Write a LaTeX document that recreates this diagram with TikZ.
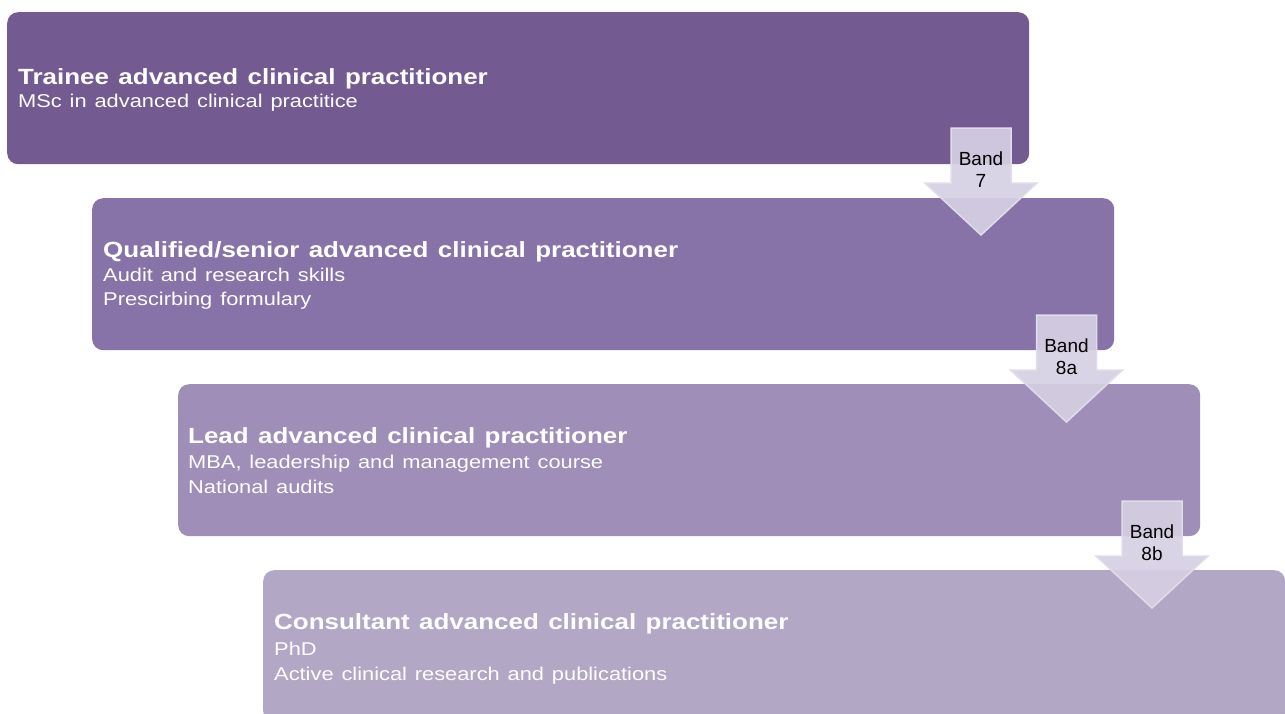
\documentclass[tikz,border=0pt]{standalone}
\usepackage{fontspec}
\setmainfont{Liberation Sans}
\newfontfamily\ttlfont{Liberation Sans}[WordSpace=1.6]
\newfontfamily\subfont{Liberation Sans}[WordSpace=1.3]
\definecolor{cA}{HTML}{735A91}
\definecolor{cB}{HTML}{8873A8}
\definecolor{cC}{HTML}{9E8EB8}
\definecolor{cD}{HTML}{B3A7C6}
\definecolor{arrowfill}{HTML}{D6D0E3}
\definecolor{arrowline}{HTML}{E1DCEA}
\newcommand{\ttl}[1]{\scalebox{1.18}[1]{\ttlfont\fontsize{22}{25}\selectfont\bfseries #1}}
\newcommand{\sub}[1]{\scalebox{1.18}[1]{\subfont\fontsize{18.5}{22}\selectfont #1}}
\tikzset{
  stage/.style={rounded corners=11pt, minimum width=1022pt, minimum height=152pt, anchor=north west, inner sep=0pt},
  txt/.style={anchor=base west, inner sep=0pt, text=white},
  bandarrow/.style={fill=arrowfill, fill opacity=0.92, draw=arrowline, line width=1.5pt},
  bandtxt/.style={anchor=base, inner sep=0pt, text=black, font=\fontsize{19}{22}\selectfont}
}
\begin{document}
\begin{tikzpicture}[x=1pt,y=-1pt]
\useasboundingbox (0,0) rectangle (1285,713);
\clip (0,0) rectangle (1285,713);
% stage boxes
\node[stage, fill=cA] (b1) at (7,12) {};
\node[stage, fill=cB] (b2) at (92,198) {};
\node[stage, fill=cC] (b3) at (178,384) {};
\node[stage, fill=cD] (b4) at (263,570) {};
% texts
\node[txt] (t1) at (18,84) {\ttl{Trainee advanced clinical practitioner}};
\node[txt] (s1) at (18,107) {\sub{MSc in advanced clinical practitice}};
\node[txt] (t2) at (103,257) {\ttl{Qualified/senior advanced clinical practitioner}};
\node[txt] (s2a) at (103,281) {\sub{Audit and research skills}};
\node[txt] (s2b) at (103,305) {\sub{Prescirbing formulary}};
\node[txt] (t3) at (188,443) {\ttl{Lead advanced clinical practitioner}};
\node[txt] (s3a) at (188,468) {\sub{MBA, leadership and management course}};
\node[txt] (s3b) at (188,493) {\sub{National audits}};
\node[txt] (t4) at (274,629) {\ttl{Consultant advanced clinical practitioner}};
\node[txt] (s4a) at (274,655) {\sub{PhD}};
\node[txt] (s4b) at (274,680) {\sub{Active clinical research and publications}};
% band arrows
\foreach \cx/\ty/\n/\lab in {981/128/1/7, 1066.5/315/2/8a, 1152/501/3/8b}{
  \draw[bandarrow] (\cx-30,\ty) -- (\cx+30,\ty) -- (\cx+30,\ty+55) -- (\cx+56,\ty+55)
     -- (\cx,\ty+107) -- (\cx-56,\ty+55) -- (\cx-30,\ty+55) -- cycle;
  \node[bandtxt] (band\n) at (\cx,\ty+37) {Band};
  \node[bandtxt] (lab\n) at (\cx,\ty+59) {\lab};
}
\end{tikzpicture}
\end{document}
